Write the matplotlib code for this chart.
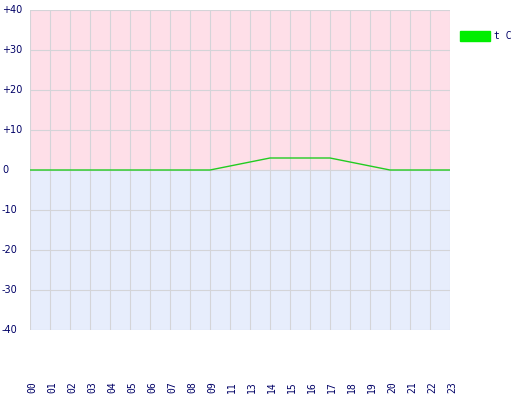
import matplotlib
matplotlib.use("Agg")
from matplotlib import pyplot as plt
from matplotlib.patches import Rectangle

# hours shown on the x axis (10 and 12 are missing in the source)
hours = ["00", "01", "02", "03", "04", "05", "06", "07", "08", "09", "11",
         "13", "14", "15", "16", "17", "18", "19", "20", "21", "22", "23"]
temps = [0, 0, 0, 0, 0, 0, 0, 0, 0, 0, 1, 2, 3, 3, 3, 3, 2, 1, 0, 0, 0, 0]
y_ticks = [40, 30, 20, 10, 0, -10, -20, -30, -40]
y_labels = ["+40", "+30", "+20", "+10", "0", "-10", "-20", "-30", "-40"]

W, H = 520, 400
fig = plt.figure(figsize=(W / 100, H / 100), dpi=100)
ax = fig.add_axes([30 / W, 1 - 330 / H, 420 / W, 320 / H])

x = list(range(len(hours)))
ax.set_xlim(0, len(hours) - 1)
ax.set_ylim(-40, 40)

# background halves
ax.axhspan(0, 40, color="#fedfe8", zorder=0)
ax.axhspan(-40, 0, color="#e7edfc", zorder=0)

for xi in x:
    ax.axvline(xi, color="#d4d4d8", lw=0.8, zorder=1)
for yt in y_ticks:
    ax.axhline(yt, color="#d4d4d8", lw=0.8, zorder=1)

ax.plot(x, temps, color="#22cc22", lw=1.0, zorder=3)

for s in ax.spines.values():
    s.set_visible(False)
ax.set_xticks([])
ax.set_yticks([])

# y labels
navy = "#000066"
for yt, lab in zip(y_ticks, y_labels):
    fig.text(2 / W, 1 - (170 - yt * 4) / H, lab, ha="left", va="center",
             fontsize=7, color=navy, family="DejaVu Sans")

# x labels, rotated, well below the plot
for xi, lab in zip(x, hours):
    fig.text((30 + xi * 20 + 2) / W, 1 - 387 / H, lab, ha="center", va="center",
             rotation=90, fontsize=7, color=navy, family="DejaVu Sans Mono")

# legend
fig.patches.append(Rectangle((460 / W, 1 - 41 / H), 30 / W, 10 / H,
                             transform=fig.transFigure, color="#00ee00"))
fig.text(494 / W, 1 - 36 / H, "t C", ha="left", va="center", fontsize=7,
         color=navy, family="DejaVu Sans Mono")

fig.savefig("out.png", dpi=100)
